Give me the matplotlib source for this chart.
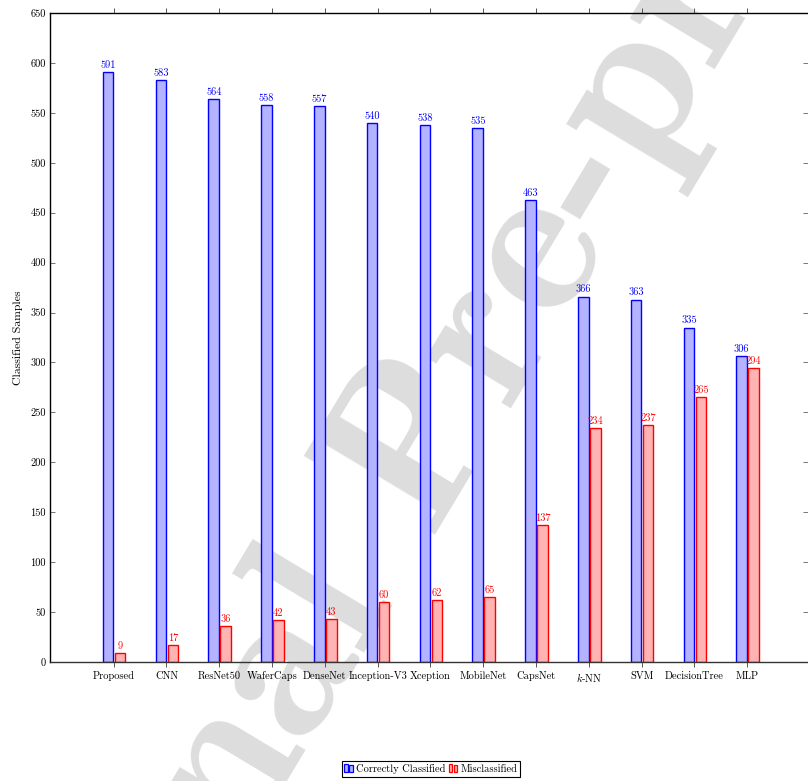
import matplotlib
matplotlib.use('Agg')
import matplotlib.pyplot as plt
import numpy as np
from matplotlib.patches import Rectangle
from matplotlib.legend_handler import HandlerBase

categories = ['Proposed', 'CNN', 'ResNet50', 'WaferCaps', 'DenseNet', 'Inception-V3',
              'Xception', 'MobileNet', 'CapsNet', r'$k$-NN', 'SVM', 'DecisionTree', 'MLP']
correct = [591, 583, 564, 558, 557, 540, 538, 535, 463, 366, 363, 335, 306]
misclassified = [9, 17, 36, 42, 43, 60, 62, 65, 137, 234, 237, 265, 294]
yticks = list(range(0, 651, 50))
series_names = ['Correctly Classified', 'Misclassified']

plt.rcParams['font.family'] = ['cmr10', 'DejaVu Serif']
plt.rcParams['mathtext.fontset'] = 'cm'
plt.rcParams['axes.formatter.use_mathtext'] = True

W, H = 808, 781
fig = plt.figure(figsize=(W / 100, H / 100), dpi=100)
ax = fig.add_axes([50 / W, 1 - 662 / H, (808 - 50) / W, (662 - 13) / H])
ax.patch.set_visible(False)

# ---- watermark behind the bars, placed so the hyphen sits where it does in the reference
WM_TEXT, WM_PREFIX = 'Journal Pre-proof', 'Journal Pre'
WM_SIZE, WM_ANGLE = 160, 59
wm_font = dict(fontsize=WM_SIZE, family=['cmb10', 'DejaVu Serif'])
renderer = fig.canvas.get_renderer()
tmp = fig.text(0, 0, WM_PREFIX, **wm_font)
w_pre = tmp.get_window_extent(renderer).width
tmp.remove()
tmp = fig.text(0, 0, '-', **wm_font)
w_dash = tmp.get_window_extent(renderer).width
tmp.remove()
em = WM_SIZE * 100 / 72
th = np.deg2rad(WM_ANGLE)
u = np.array([np.cos(th), np.sin(th)])
v = np.array([-np.sin(th), np.cos(th)])
target = np.array([584.0, H - 180.0])
start = target - (w_pre + w_dash / 2) * u - 0.25 * em * v
fig.text(start[0] / W, start[1] / H, WM_TEXT, rotation=WM_ANGLE, rotation_mode='anchor',
         ha='left', va='baseline', color='#dddddd', zorder=-1, **wm_font)

BLUE_F, BLUE_E = '#b3b3ff', '#0000ff'
RED_F, RED_E = '#ffb3b3', '#ff0000'

x = np.arange(len(categories))
bw = 0.2
ax.bar(x - 0.105, correct, bw, facecolor=BLUE_F, edgecolor=BLUE_E, linewidth=1.0, zorder=2)
ax.bar(x + 0.12, misclassified, bw, facecolor=RED_F, edgecolor=RED_E, linewidth=1.0, zorder=2)

for xi, val in zip(x - 0.105, correct):
    ax.annotate(str(val), (xi, val), xytext=(0, 1.5), textcoords='offset points',
                ha='center', va='bottom', fontsize=7.5, color=BLUE_E)
for xi, val in zip(x + 0.12, misclassified):
    ax.annotate(str(val), (xi, val), xytext=(0, 1.5), textcoords='offset points',
                ha='center', va='bottom', fontsize=7.5, color=RED_E)

spacing = (747.3 - 113.7) / 12
ax.set_xlim(-(113.7 - 50) / spacing, (808 - 113.7) / spacing)
ax.set_ylim(0, 650)
ax.set_xticks(x)
ax.set_xticklabels(categories, fontsize=7.5)
ax.set_yticks(yticks)
ax.set_yticklabels([str(t) for t in yticks], fontsize=7.5)
ax.tick_params(axis='x', direction='out', length=3.5, width=0.7, top=True, bottom=True,
               color='#555555', pad=3)
ax.tick_params(axis='y', direction='in', length=3.5, width=0.7, left=True, right=True,
               color='#777777', pad=3)
ax.spines['right'].set_visible(False)
for s in ['left', 'top', 'bottom']:
    ax.spines[s].set_linewidth(1.0)
ax.spines['bottom'].set_color('#333333')

ax.set_ylabel('Classified Samples', fontsize=8.5)
ax.yaxis.set_label_coords(-0.036, 0.5)


class TwoBarHandler(HandlerBase):
    def __init__(self, fc, ec):
        super().__init__()
        self.fc, self.ec = fc, ec

    def create_artists(self, legend, orig_handle, xdescent, ydescent, width, height, fontsize, trans):
        bwid = width * 0.36
        r1 = Rectangle((-xdescent, -ydescent), bwid, height * 1.1, facecolor=self.fc,
                       edgecolor=self.ec, linewidth=0.9, transform=trans)
        r2 = Rectangle((-xdescent + width * 0.55, -ydescent), bwid, height * 0.9, facecolor=self.fc,
                       edgecolor=self.ec, linewidth=0.9, transform=trans)
        return [r1, r2]


h1 = Rectangle((0, 0), 1, 1)
h2 = Rectangle((0, 0), 1, 1)
leg = fig.legend([h1, h2], series_names, loc='center', bbox_to_anchor=(431 / W, 1 - 769 / H),
                 ncol=2, fontsize=7.5, frameon=True, fancybox=False, shadow=False,
                 edgecolor='black', framealpha=1, handlelength=0.9, handleheight=0.8,
                 handletextpad=0.25, columnspacing=0.3, borderpad=0.25, borderaxespad=0,
                 handler_map={h1: TwoBarHandler(BLUE_F, BLUE_E), h2: TwoBarHandler(RED_F, RED_E)})
leg.get_frame().set_linewidth(0.8)

fig.savefig('out.png', dpi=100)
